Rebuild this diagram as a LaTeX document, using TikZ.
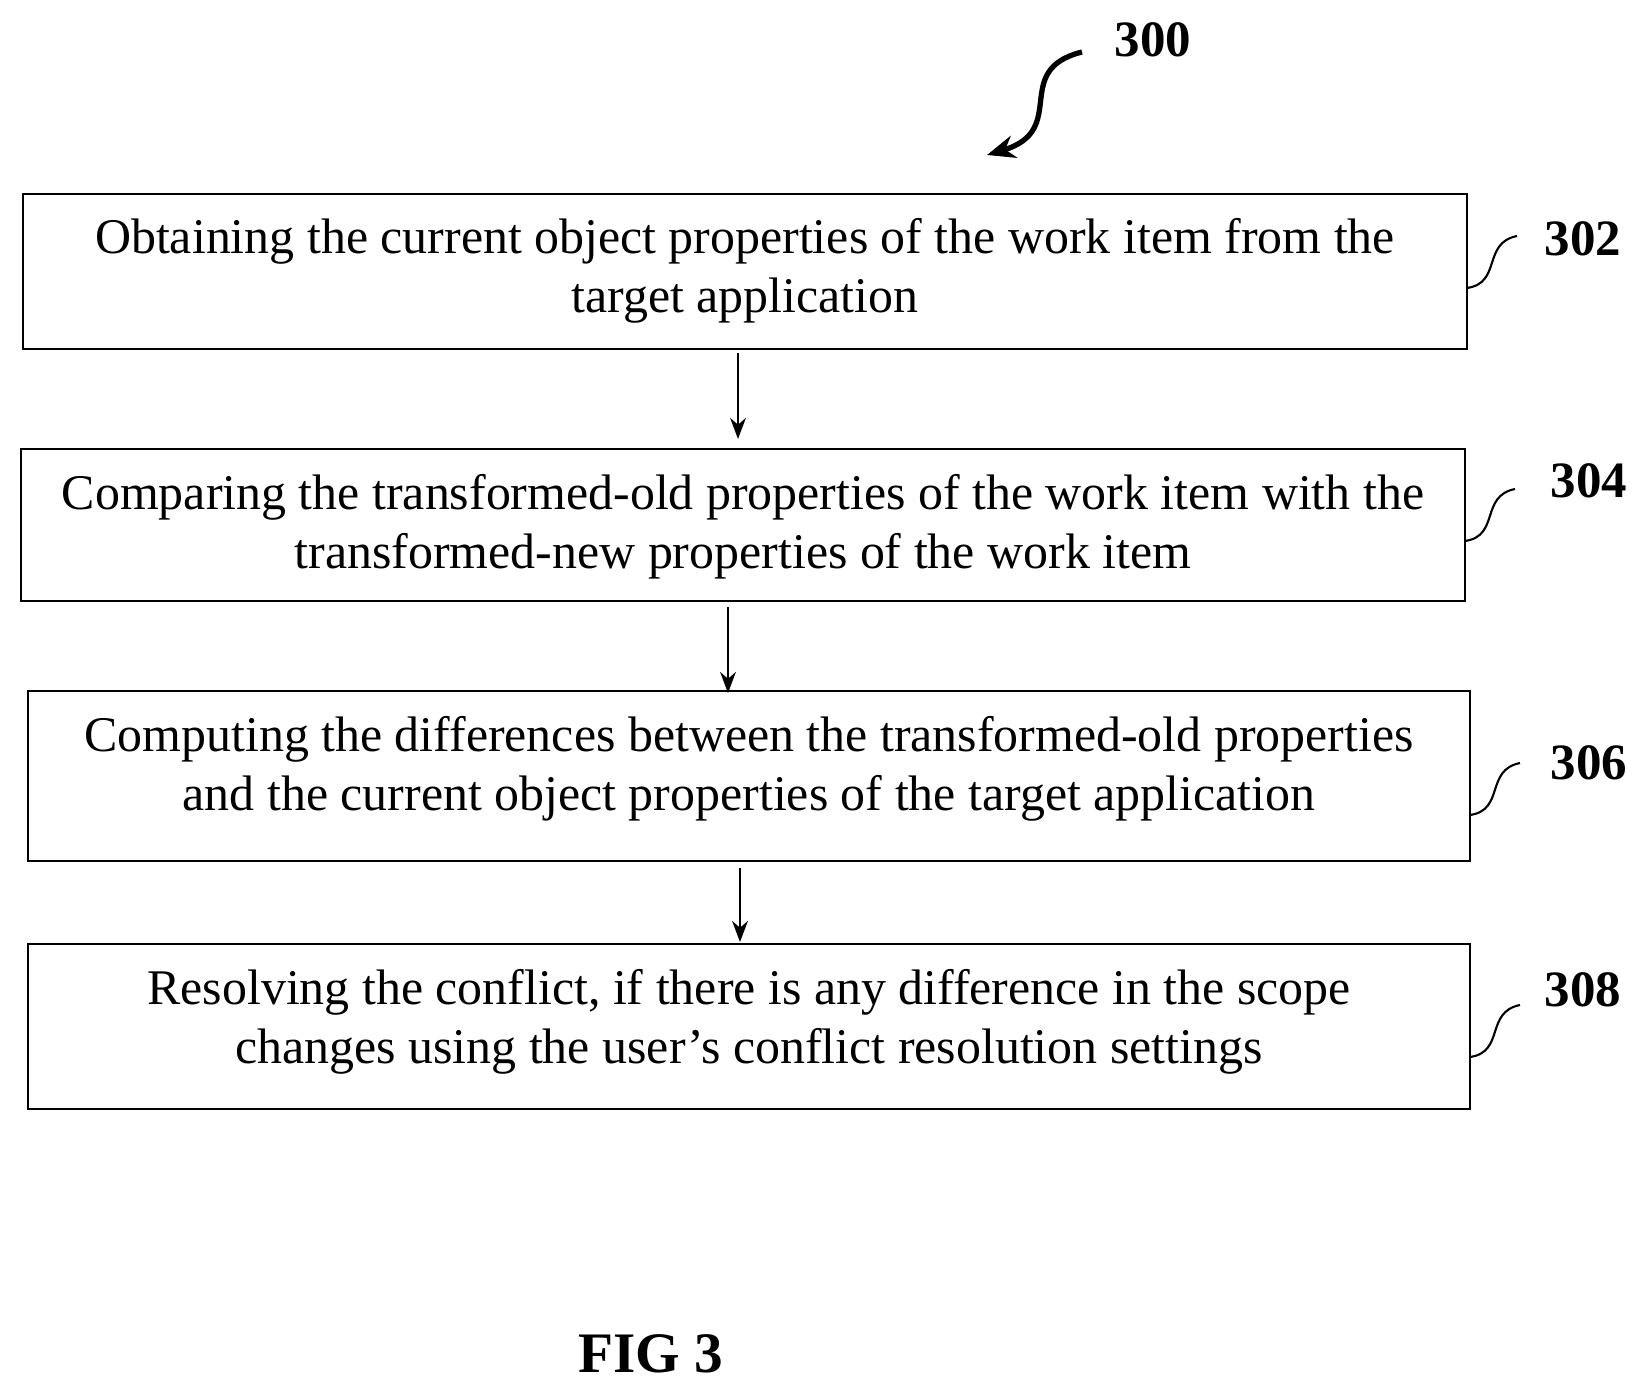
\documentclass[tikz,border=0pt]{standalone}
\usepackage{fontspec}
\setmainfont{Liberation Serif}
\usetikzlibrary{arrows.meta}
\begin{document}
\begin{tikzpicture}[x=0.02cm,y=-0.02cm,
 box/.style={draw,line width=1.2pt,inner sep=0pt},
 txt/.style={font=\fontsize{28.4}{33.5}\selectfont,align=center},
 lab/.style={font=\bfseries\fontsize{29}{34}\selectfont},
 arr/.style={-{Stealth[length=12pt,width=9pt]},line width=1.2pt},
 lead/.style={line width=1.2pt}]
\useasboundingbox (0,0) rectangle (1640,1388);
\draw[box] (23,194) rectangle (1467,349);
\node[txt] (t1) at (745,271) {Obtaining the current object properties of the work item from the\\target application};
\draw[box] (21,449) rectangle (1465,601);
\node[txt] (t2) at (743,527) {Comparing the transformed-old properties of the work item with the\\transformed-new properties of the work item};
\draw[box] (28,691) rectangle (1470,861);
\node[txt] (t3) at (749,769) {Computing the differences between the transformed-old properties\\and the current object properties of the target application};
\draw[box] (28,944) rectangle (1470,1109);
\node[txt] (t4) at (749,1022) {Resolving the conflict, if there is any difference in the scope\\changes using the user's conflict resolution settings};
\coordinate (a1s) at (738,353); \coordinate (a1e) at (738,439);
\coordinate (a2s) at (728,607); \coordinate (a2e) at (728,693);
\coordinate (a3s) at (740,868); \coordinate (a3e) at (740,942);
\draw[arr] (a1s) -- (a1e);
\draw[arr] (a2s) -- (a2e);
\draw[arr] (a3s) -- (a3e);
\node[lab] (l302) at (1583,239) {302};
\node[lab] (l304) at (1589,481) {304};
\node[lab] (l306) at (1589,763) {306};
\node[lab] (l308) at (1583,990) {308};
\foreach \y/\x in {288/1467,541/1465,815/1470,1057/1470}{
 \draw[lead] (\x,\y) .. controls (\x+35,\y-5) and (\x+15,\y-45) .. (\x+50,\y-52);
}
\node[lab] (l300) at (1153,40) {300};
\coordinate (c1) at (1082,52); \coordinate (c2) at (987,155);
\draw[-{Stealth[length=16pt,width=13pt]},line width=3pt] (c1) .. controls (1010,70) and (1070,130) .. (c2);
\node[font=\bfseries\fontsize{32.6}{38}\selectfont] (fig) at (651,1354) {FIG 3};
\end{tikzpicture}
\end{document}
